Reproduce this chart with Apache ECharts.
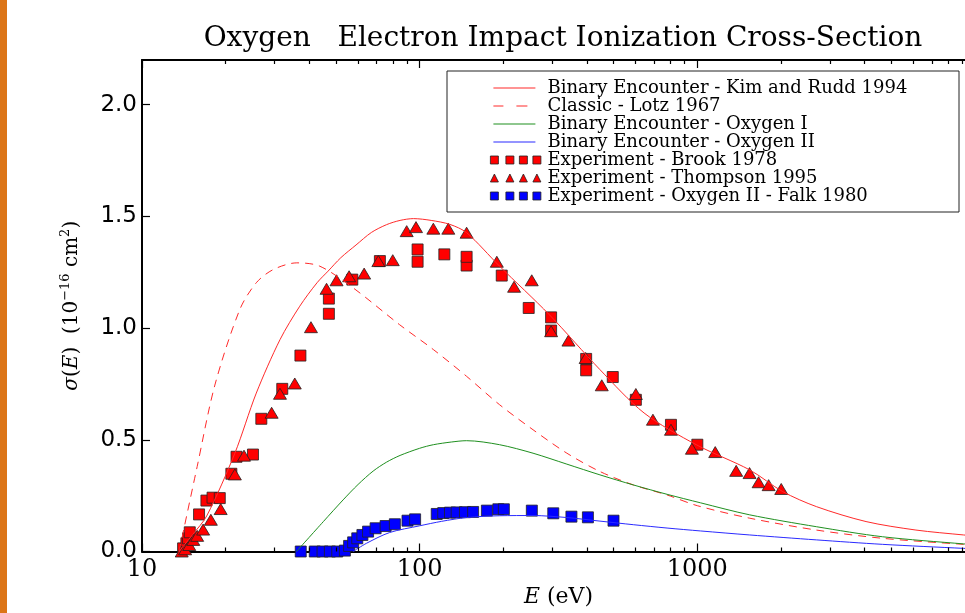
<!DOCTYPE html>
<html>
<head>
<meta charset="utf-8">
<script src="https://cdn.jsdelivr.net/npm/echarts@6/dist/echarts.min.js"></script>
<style>
html,body{margin:0;padding:0;background:#fff;}
#wrap{position:relative;width:965px;height:613px;}
#chart,#ticks{position:absolute;left:0;top:0;width:965px;height:613px;}
#ticks{pointer-events:none;}
</style>
</head>
<body>
<div id="wrap"><div id="chart"></div><div id="ticks"></div></div>
<script>
// ---- Data ----
const kimRuddE = [13.6, 15.2, 17.1, 21.6, 25.8, 31.4, 37, 42.7, 46.8, 52, 59, 67, 76, 85, 95, 110, 128.6, 147.6, 194, 293, 446, 643, 991, 1545, 2031, 2683, 4051, 6128, 9100, 10000];
const kimRuddV = [0, 0.075, 0.159, 0.44, 0.709, 0.948, 1.098, 1.203, 1.255, 1.315, 1.372, 1.428, 1.463, 1.482, 1.490, 1.482, 1.464, 1.427, 1.277, 1.06, 0.814, 0.62, 0.478, 0.365, 0.268, 0.201, 0.134, 0.096, 0.074, 0.07];

const lotzE = [13.6, 15.8, 18.3, 22.5, 25.8, 29.7, 36.1, 43.7, 57.6, 84.7, 112, 147.6, 194, 256, 339, 446, 588, 778, 1000, 1545, 2683, 4648, 9100, 10000];
const lotzV = [0, 0.38, 0.745, 1.083, 1.203, 1.262, 1.292, 1.277, 1.18, 1.015, 0.904, 0.784, 0.657, 0.545, 0.44, 0.358, 0.298, 0.253, 0.205, 0.149, 0.096, 0.059, 0.032, 0.03];

const oxyIE = [36, 45, 53, 60, 68, 76, 85, 100, 112, 130, 147.6, 194, 256, 339, 446, 588, 778, 1026, 1545, 2683, 4648, 9100, 10000];
const oxyIV = [0, 0.134, 0.231, 0.3, 0.36, 0.40, 0.43, 0.462, 0.478, 0.49, 0.496, 0.478, 0.44, 0.391, 0.343, 0.298, 0.256, 0.218, 0.164, 0.111, 0.066, 0.034, 0.032];

const oxyIIE = [57.6, 64.4, 78, 100, 120, 147.6, 194, 256, 339, 446, 588, 778, 1026, 1545, 2683, 4648, 9100, 10000];
const oxyIIV = [0, 0.037, 0.085, 0.115, 0.135, 0.152, 0.16, 0.161, 0.152, 0.136, 0.12, 0.105, 0.092, 0.074, 0.052, 0.032, 0.014, 0.012];

const brookE = [14.06, 14.45, 14.65, 14.86, 16.05, 17.06, 17.95, 19.06, 20.98, 21.9, 25.1, 26.9, 32.0, 37.2, 47.1, 47.1, 57.2, 71.9, 98.3, 98.3, 122.7, 147.6, 147.6, 197.5, 247, 297.4, 297.4, 397.7, 397.7, 496, 600.6, 803.6, 1000];
const brookV = [0.014, 0.037, 0.059, 0.086, 0.166, 0.228, 0.241, 0.239, 0.348, 0.424, 0.434, 0.594, 0.728, 0.877, 1.064, 1.132, 1.217, 1.300, 1.297, 1.352, 1.330, 1.280, 1.319, 1.235, 1.090, 0.989, 1.048, 0.811, 0.862, 0.781, 0.679, 0.567, 0.478];

const thompsonE = [13.9, 14.3, 14.8, 15.3, 15.8, 16.6, 17.7, 19.2, 21.6, 23.3, 29.3, 31.4, 35.5, 40.6, 46.2, 50.2, 55.7, 63.1, 71, 80, 89.8, 97, 112, 126.8, 147.6, 189.6, 218.8, 253.3, 297.4, 343.4, 396, 452.7, 600.6, 692, 803.6, 956, 1160, 1380, 1542, 1662, 1806, 2005];
const thompsonV = [0.0, 0.01, 0.029, 0.052, 0.070, 0.098, 0.142, 0.19, 0.345, 0.429, 0.621, 0.706, 0.752, 1.004, 1.176, 1.214, 1.232, 1.244, 1.300, 1.304, 1.434, 1.452, 1.445, 1.445, 1.427, 1.297, 1.185, 1.214, 0.986, 0.944, 0.866, 0.744, 0.705, 0.590, 0.545, 0.460, 0.445, 0.361, 0.351, 0.310, 0.297, 0.280];

const falkE = [37.3, 41.9, 44.7, 47.5, 50.5, 53.8, 55.7, 57.6, 59.6, 62.2, 65.2, 69.4, 75.4, 81.4, 90.4, 96.3, 115.2, 121.6, 128.6, 135.9, 145.6, 155.8, 174.6, 192, 201, 253.5, 302.8, 352, 403.6, 499];
const falkV = [0, 0, 0, 0, 0, 0.004, 0.025, 0.041, 0.059, 0.074, 0.089, 0.104, 0.114, 0.122, 0.138, 0.144, 0.168, 0.172, 0.174, 0.175, 0.176, 0.177, 0.183, 0.189, 0.189, 0.183, 0.171, 0.156, 0.153, 0.138];

const seriesNames = [
  'Binary Encounter - Kim and Rudd 1994',
  'Classic - Lotz 1967',
  'Binary Encounter - Oxygen I',
  'Binary Encounter - Oxygen II',
  'Experiment - Brook 1978',
  'Experiment - Thompson 1995',
  'Experiment - Oxygen II - Falk 1980'
];

const xTickValues = [10, 100, 1000, 10000];
const xTickLabels = ['10', '100', '1000', ''];
const xMinorTickValues = [20, 30, 40, 50, 60, 70, 80, 90, 200, 300, 400, 500, 600, 700, 800, 900, 2000, 3000, 4000, 5000, 6000, 7000, 8000, 9000];
const yTickValues = [0, 0.5, 1.0, 1.5, 2.0];

// ---- helpers ----
const pairs = (xs, ys) => xs.map((x, i) => [x, ys[i]]);

const RED = '#ff2a2a';
const GREEN = '#1f8f1f';
const BLUE = '#2a2aff';
const SERIF = "'DejaVu Serif', 'Liberation Serif', serif";
const SANS = "'DejaVu Sans', sans-serif";
const GRID = { left: 142, right: -10, top: 60, bottom: 61.5, outerBoundsMode: 'none' };

const lineIcon = 'path://M0,0 M5,0h42v1.2h-42z M54,0';
const dashIcon = 'path://M0,0 M5,0h10v1.2h-10z M28,0h11v1.2h-11z M54,0';
const sqIcon = 'path://M0,0 M2,0h8v8h-8z M17.5,0h8v8h-8z M31,0h8v8h-8z M44.5,0h8v8h-8z M54,8';
const triIcon = 'path://M0,0 M2,8L6,0L10,8z M17.5,8L21.5,0L25.5,8z M31,8L35,0L39,8z M44.5,8L48.5,0L52.5,8z M54,8';

function logAxis(position, withLabels) {
  const ax = {
    type: 'log', logBase: 10, position: position, min: 10, max: 10000,
    axisLine: { show: true, lineStyle: { color: '#000', width: 2 } },
    splitLine: { show: false },
    axisTick: { show: false },
    minorTick: { show: false },
    axisLabel: { show: false }
  };
  if (withLabels) {
    ax.axisLabel = {
      show: true, margin: 6, fontFamily: SERIF, fontSize: 24, color: '#000',
      formatter: v => { const i = xTickValues.findIndex(e => Math.abs(e - v) < 1e-6 * e); return i >= 0 ? xTickLabels[i] : ''; }
    };
    ax.name = '{i|E} (eV)';
    ax.nameLocation = 'middle';
    ax.nameGap = 27;
    ax.nameTextStyle = { fontFamily: SERIF, fontSize: 22, color: '#000',
      rich: { i: { fontFamily: SERIF, fontStyle: 'italic', fontSize: 22, color: '#000' } } };
  }
  return ax;
}

// ---- main chart: data, labels, legend ----
const chart = echarts.init(document.getElementById('chart'));
chart.setOption({
  animation: false,
  title: {
    text: 'Oxygen   Electron Impact Ionization Cross-Section',
    left: 558, top: 20, textAlign: 'center',
    textStyle: { fontFamily: SERIF, fontSize: 28, fontWeight: 'normal', color: '#000' }
  },
  graphic: [
    { type: 'rect', shape: { x: 0, y: 0, width: 7, height: 613 }, style: { fill: '#dc7518' } },
    { type: 'rect', shape: { x: 447, y: 71, width: 512, height: 141 }, style: { fill: '#fff', stroke: '#222', lineWidth: 1 } }
  ],
  legend: {
    orient: 'vertical', left: 488, top: 79, padding: 0,
    itemWidth: 54, itemHeight: 10, itemGap: 0, itemTextGap: 12,
    symbolKeepAspect: true,
    textStyle: { fontFamily: SERIF, fontSize: 18, color: '#000', lineHeight: 17.4 },
    data: [
      { name: seriesNames[0], icon: lineIcon, itemStyle: { color: RED, borderWidth: 0 } },
      { name: seriesNames[1], icon: dashIcon, itemStyle: { color: RED, borderWidth: 0 } },
      { name: seriesNames[2], icon: lineIcon, itemStyle: { color: GREEN, borderWidth: 0 } },
      { name: seriesNames[3], icon: lineIcon, itemStyle: { color: BLUE, borderWidth: 0 } },
      { name: seriesNames[4], icon: sqIcon, itemStyle: { color: '#ff0000', borderColor: '#222', borderWidth: 0.8 } },
      { name: seriesNames[5], icon: triIcon, itemStyle: { color: '#ff0000', borderColor: '#222', borderWidth: 0.8 } },
      { name: seriesNames[6], icon: sqIcon, itemStyle: { color: '#0000ff', borderColor: '#222', borderWidth: 0.8 } }
    ]
  },
  grid: GRID,
  xAxis: [ logAxis('bottom', true), logAxis('top', false) ],
  yAxis: [{
    type: 'value', min: 0, max: 2.2, interval: 0.5,
    axisLine: { show: true, lineStyle: { color: '#000', width: 2 } },
    splitLine: { show: false },
    axisTick: { show: false },
    axisLabel: { show: true, showMaxLabel: false, margin: 5, fontFamily: SANS, fontSize: 23, color: '#000',
      formatter: v => v.toFixed(1) },
    name: '{i|σ}({i|E})  (10{sup|−16} cm{sup|2})', nameLocation: 'middle', nameGap: 58,
    nameTextStyle: { fontFamily: SERIF, fontSize: 20, color: '#000',
      rich: {
        i: { fontFamily: SERIF, fontStyle: 'italic', fontSize: 20, color: '#000' },
        sup: { fontFamily: SERIF, fontSize: 13, color: '#000', padding: [0, 0, 12, 0] }
      } }
  }],
  series: [
    { name: seriesNames[0], type: 'line', xAxisIndex: 0, data: pairs(kimRuddE, kimRuddV), showSymbol: false, symbol: 'none', smooth: 0.3,
      lineStyle: { color: RED, width: 1 }, itemStyle: { color: RED } },
    { name: seriesNames[1], type: 'line', xAxisIndex: 0, data: pairs(lotzE, lotzV), showSymbol: false, symbol: 'none', smooth: 0.3,
      lineStyle: { color: RED, width: 1, type: [8, 6] }, itemStyle: { color: RED } },
    { name: seriesNames[2], type: 'line', xAxisIndex: 0, data: pairs(oxyIE, oxyIV), showSymbol: false, symbol: 'none', smooth: 0.3,
      lineStyle: { color: GREEN, width: 1 }, itemStyle: { color: GREEN } },
    { name: seriesNames[3], type: 'line', xAxisIndex: 0, data: pairs(oxyIIE, oxyIIV), showSymbol: false, symbol: 'none', smooth: 0.3,
      lineStyle: { color: BLUE, width: 1 }, itemStyle: { color: BLUE } },
    { name: seriesNames[4], type: 'scatter', xAxisIndex: 0, data: pairs(brookE, brookV), symbol: 'rect', symbolSize: 11,
      itemStyle: { color: '#ff0000', borderColor: '#222', borderWidth: 0.8, opacity: 1 } },
    { name: seriesNames[5], type: 'scatter', xAxisIndex: 0, data: pairs(thompsonE, thompsonV), symbol: 'triangle', symbolSize: [13, 11],
      itemStyle: { color: '#ff0000', borderColor: '#222', borderWidth: 0.8, opacity: 1 } },
    { name: seriesNames[6], type: 'scatter', xAxisIndex: 0, data: pairs(falkE, falkV), symbol: 'rect', symbolSize: 11,
      itemStyle: { color: '#0000ff', borderColor: '#222', borderWidth: 0.8, opacity: 1 } }
  ]
});

// ---- overlay: inward tick marks only (same grid geometry) ----
function tickAxis(position, values, len) {
  return {
    type: 'log', logBase: 10, position: position, min: 10, max: 10000,
    axisLine: { show: false }, splitLine: { show: false }, minorTick: { show: false },
    axisLabel: { show: false },
    axisTick: { show: true, inside: true, length: len, lineStyle: { color: '#000', width: 1.2 }, customValues: values }
  };
}
const ticks = echarts.init(document.getElementById('ticks'));
ticks.setOption({
  animation: false,
  backgroundColor: 'transparent',
  grid: GRID,
  xAxis: [
    tickAxis('bottom', xTickValues, 8),
    tickAxis('bottom', xMinorTickValues, 4),
    tickAxis('top', xTickValues, 8),
    tickAxis('top', xMinorTickValues, 4)
  ],
  yAxis: [{
    type: 'value', min: 0, max: 2.2,
    axisLine: { show: false }, splitLine: { show: false }, axisLabel: { show: false },
    axisTick: { show: true, inside: true, length: 8, lineStyle: { color: '#000', width: 1.2 }, customValues: yTickValues }
  }],
  series: []
});
</script>
</body>
</html>
